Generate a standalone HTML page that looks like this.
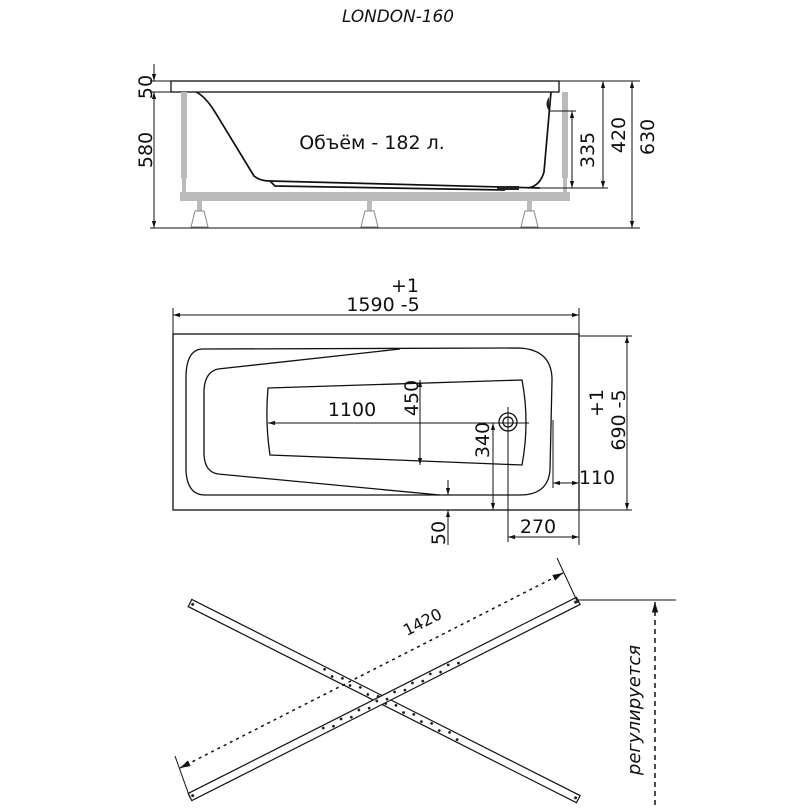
<!DOCTYPE html>
<html><head><meta charset="utf-8"><style>
html,body{margin:0;padding:0;background:#fff;}
svg{display:block;}
text{font-family:"DejaVu Sans","Liberation Sans",sans-serif;fill:#111;}
</style></head><body>
<svg width="808" height="808" viewBox="0 0 808 808" xmlns="http://www.w3.org/2000/svg">
<defs>
<marker id="a" viewBox="0 0 10 10" refX="10" refY="5" markerWidth="7" markerHeight="7" orient="auto-start-reverse"><path d="M0,2 L10,5 L0,8 z" fill="#111"/></marker>
</defs>
<text x="342" y="22" font-size="17" font-style="italic" textLength="112" lengthAdjust="spacingAndGlyphs">LONDON-160</text>

<!-- SIDE VIEW -->
<g stroke="#111" fill="none" stroke-width="1.3">
<rect x="171" y="81" width="388" height="11" fill="#fff"/>
</g>
<g fill="#bbb">
<rect x="181" y="92" width="6" height="86"/><rect x="182" y="178" width="4" height="14"/>
<rect x="562" y="92" width="6" height="86"/><rect x="563" y="178" width="4" height="14"/>
<rect x="180" y="192" width="390" height="9"/>
<rect x="197" y="201" width="5" height="10"/><rect x="367" y="201" width="5" height="10"/><rect x="527" y="201" width="5" height="10"/>
</g>
<g fill="none" stroke="#888" stroke-width="1">
<path d="M195,211 h9 l4,16 h-17 z"/><path d="M365,211 h9 l4,16 h-17 z"/><path d="M525,211 h9 l4,16 h-17 z"/>
</g>
<g stroke="#111" fill="none" stroke-width="1.7">
<path d="M196,92 Q205,96 215,112 L254,176 Q260,181 270,181 L540,188"/>
<path d="M270,181 L275,186 L505,190"/>
<path d="M551,92 L544,172 Q540,186 528,188"/>
</g>
<rect x="497" y="186" width="22" height="4" fill="#222"/>
<path d="M549,97 Q544,104 549,111 z" fill="#222"/>
<g stroke="#111" stroke-width="1" fill="none">
<line x1="150" y1="81" x2="640" y2="81"/>
<line x1="150" y1="92" x2="171" y2="92"/>
<line x1="150" y1="228" x2="640" y2="228"/>
<line x1="549" y1="111" x2="576" y2="111"/>
<line x1="528" y1="188" x2="608" y2="188"/>
<line x1="154" y1="64" x2="154" y2="81" marker-end="url(#a)"/>
<line x1="154" y1="92" x2="154" y2="228" marker-start="url(#a)" marker-end="url(#a)"/>
<line x1="572" y1="111" x2="572" y2="188" marker-start="url(#a)" marker-end="url(#a)"/>
<line x1="603" y1="81" x2="603" y2="188" marker-start="url(#a)" marker-end="url(#a)"/>
<line x1="632" y1="81" x2="632" y2="228" marker-start="url(#a)" marker-end="url(#a)"/>
</g>
<g font-size="19">
<text transform="translate(152,87) rotate(-90)" text-anchor="middle">50</text>
<text transform="translate(152,150) rotate(-90)" text-anchor="middle">580</text>
<text transform="translate(594,150) rotate(-90)" text-anchor="middle">335</text>
<text transform="translate(625,135) rotate(-90)" text-anchor="middle">420</text>
<text transform="translate(654,137) rotate(-90)" text-anchor="middle">630</text>
<text x="372" y="149" text-anchor="middle">Объём - 182 л.</text>
</g>

<!-- PLAN VIEW -->
<g stroke="#111" stroke-width="1.3" fill="none">
<rect x="173" y="334" width="406" height="176"/>
<path d="M203,349 L520,348 Q552,350 552,380 L550,470 Q548,495 520,495 L205,495 Q187,495 186,470 L186,375 Q187,349 203,349 Z"/>
<path d="M218,369 L400,349 M218,369 Q205,372 204,390 L204,455 Q205,472 218,474 L440,495"/>
<path d="M268,388 L522,380 Q530,422 522,465 L270,455 Q265,422 268,388 Z"/>
<circle cx="508" cy="422" r="9"/><circle cx="508" cy="422" r="5"/>
</g>
<g stroke="#111" stroke-width="1" fill="none">
<line x1="173" y1="308" x2="173" y2="334"/><line x1="579" y1="308" x2="579" y2="545"/>
<line x1="173" y1="315" x2="579" y2="315" marker-start="url(#a)" marker-end="url(#a)"/>
<line x1="579" y1="336" x2="632" y2="336"/><line x1="579" y1="510" x2="632" y2="510"/>
<line x1="627" y1="336" x2="627" y2="510" marker-start="url(#a)" marker-end="url(#a)"/>
<line x1="268" y1="423" x2="529" y2="423" marker-start="url(#a)"/>
<line x1="420" y1="380" x2="420" y2="465" marker-start="url(#a)" marker-end="url(#a)"/>
<line x1="508" y1="407" x2="508" y2="542"/>
<line x1="493" y1="423" x2="493" y2="510" marker-start="url(#a)" marker-end="url(#a)"/>
<line x1="553" y1="420" x2="553" y2="488"/>
<line x1="553" y1="483" x2="579" y2="483" marker-start="url(#a)" marker-end="url(#a)"/>
<line x1="508" y1="537" x2="579" y2="537" marker-start="url(#a)" marker-end="url(#a)"/>
<line x1="448" y1="480" x2="448" y2="495" marker-end="url(#a)"/>
<line x1="448" y1="545" x2="448" y2="510" marker-end="url(#a)"/>
</g>
<g font-size="19">
<text x="405" y="292" text-anchor="middle">+1</text>
<text x="383" y="311" text-anchor="middle">1590 -5</text>
<text x="352" y="416" text-anchor="middle">1100</text>
<text transform="translate(418,398) rotate(-90)" text-anchor="middle">450</text>
<text transform="translate(489,440) rotate(-90)" text-anchor="middle">340</text>
<text x="597" y="484" text-anchor="middle">110</text>
<text x="538" y="533" text-anchor="middle">270</text>
<text transform="translate(445,533) rotate(-90)" text-anchor="middle">50</text>
<text transform="translate(603,403) rotate(-90)" text-anchor="middle">+1</text>
<text transform="translate(625,420) rotate(-90)" text-anchor="middle">690 -5</text>
</g>

<!-- CROSS BARS -->
<g stroke="#111" stroke-width="1.2" fill="#fff">
<g transform="translate(190,603) rotate(26.8)"><rect x="0" y="-4" width="435" height="8"/></g>
<g transform="translate(190,797) rotate(-26.8)"><rect x="0" y="-4" width="435" height="8"/></g>
</g>
<g fill="#222">
<g transform="translate(190,603) rotate(26.8)">
<circle cx="3" cy="0" r="1.5"/><circle cx="432" cy="0" r="1.5"/>
<circle cx="150" cy="-1.5" r="1.4"/><circle cx="160" cy="1.5" r="1.4"/><circle cx="170" cy="-1.5" r="1.4"/><circle cx="180" cy="1.5" r="1.4"/><circle cx="190" cy="-1.5" r="1.4"/><circle cx="200" cy="1.5" r="1.4"/><circle cx="210" cy="-1.5" r="1.4"/><circle cx="220" cy="1.5" r="1.4"/><circle cx="230" cy="-1.5" r="1.4"/><circle cx="240" cy="1.5" r="1.4"/><circle cx="250" cy="-1.5" r="1.4"/><circle cx="260" cy="1.5" r="1.4"/><circle cx="270" cy="-1.5" r="1.4"/><circle cx="280" cy="1.5" r="1.4"/><circle cx="290" cy="-1.5" r="1.4"/><circle cx="300" cy="1.5" r="1.4"/>
</g>
<g transform="translate(190,797) rotate(-26.8)">
<circle cx="3" cy="0" r="1.5"/><circle cx="432" cy="0" r="1.5"/>
<circle cx="150" cy="-1.5" r="1.4"/><circle cx="160" cy="1.5" r="1.4"/><circle cx="170" cy="-1.5" r="1.4"/><circle cx="180" cy="1.5" r="1.4"/><circle cx="190" cy="-1.5" r="1.4"/><circle cx="200" cy="1.5" r="1.4"/><circle cx="210" cy="-1.5" r="1.4"/><circle cx="220" cy="1.5" r="1.4"/><circle cx="230" cy="-1.5" r="1.4"/><circle cx="240" cy="1.5" r="1.4"/><circle cx="250" cy="-1.5" r="1.4"/><circle cx="260" cy="1.5" r="1.4"/><circle cx="270" cy="-1.5" r="1.4"/><circle cx="280" cy="1.5" r="1.4"/><circle cx="290" cy="-1.5" r="1.4"/><circle cx="300" cy="1.5" r="1.4"/>
</g>
</g>
<g stroke="#111" stroke-width="1" fill="none">
<line x1="175" y1="756" x2="190" y2="798"/>
<line x1="557" y1="558" x2="578" y2="603"/>
<line x1="180" y1="768" x2="563" y2="573" stroke-width="1.5" stroke-dasharray="3,4" marker-start="url(#a)" marker-end="url(#a)"/>
<line x1="578" y1="600" x2="676" y2="600"/>
<line x1="655" y1="602" x2="655" y2="806" stroke-width="1.5" stroke-dasharray="5,4" marker-start="url(#a)"/>
</g>
<text transform="translate(425,627) rotate(-27)" font-size="16" text-anchor="middle">1420</text>
<text transform="translate(640,710) rotate(-90)" font-size="18" font-style="italic" text-anchor="middle">регулируется</text>
</svg>
</body></html>
